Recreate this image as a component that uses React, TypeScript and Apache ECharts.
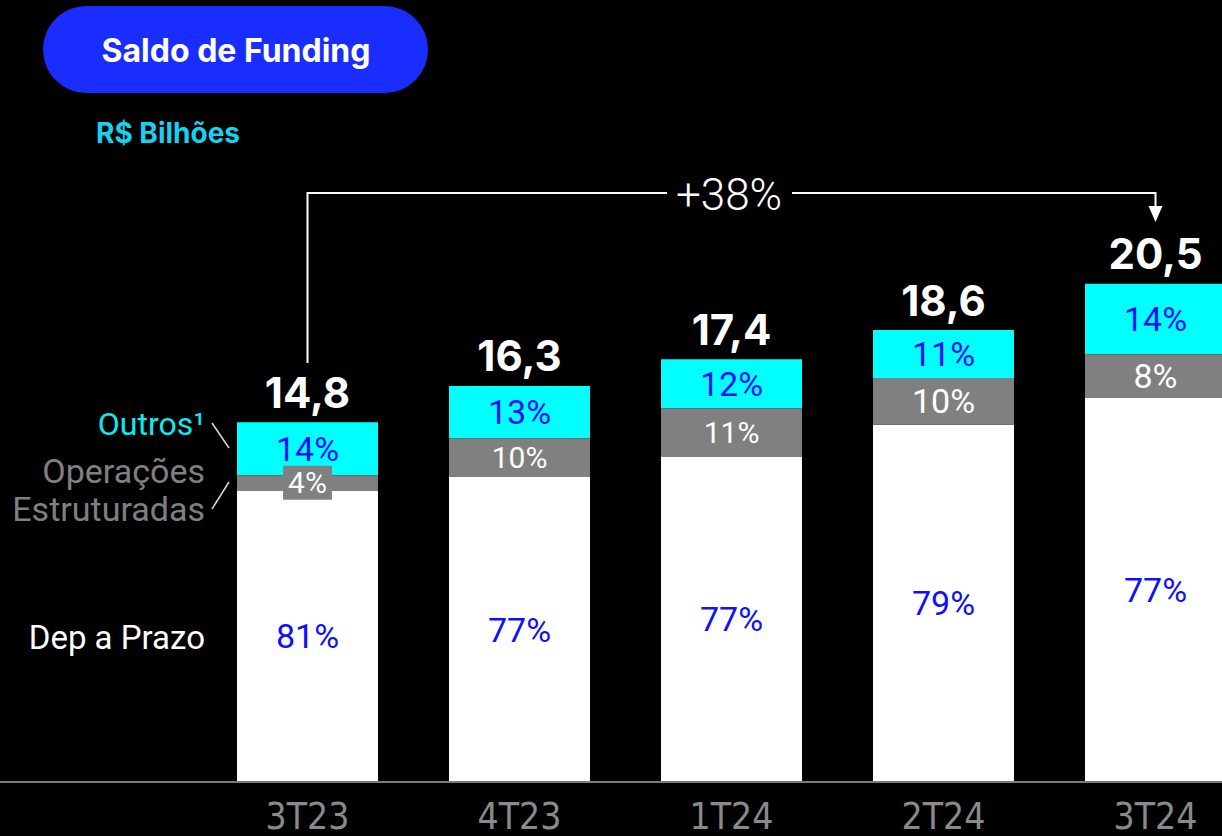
import React, { useEffect, useRef } from "react";
import * as echarts from "echarts";

const categories = ["3T23", "4T23", "1T24", "2T24", "3T24"];
const totals = [14.8, 16.3, 17.4, 18.6, 20.5];
const depPrazo = [12.0, 12.55, 13.4, 14.7, 15.8];
const opEstruturadas = [0.62, 1.6, 1.98, 1.93, 1.8];
const outros = [2.18, 2.15, 2.02, 1.97, 2.9];
const depPct = ["81%", "77%", "77%", "79%", "77%"];
const opPct = ["4%", "10%", "11%", "10%", "8%"];
const outrosPct = ["14%", "13%", "12%", "11%", "14%"];
const growthLabel = "+38%";
const totalLabels = ["14,8", "16,3", "17,4", "18,6", "20,5"];

const W = 1222;
const H = 836;
const CHART_W = 1280;
const GRID_LEFT = 201.5;
const CAT_W = 212;
const BASE_Y = 782;
const PX_PER_UNIT = 24.3;
const Y_MAX = 30;

const BLUE = "#0f0fff";
const CYAN = "#00ffff";
const GRAY = "#808080";
const FONT = "Roboto, 'Noto Sans', sans-serif";

export default function App() {
  const ref = useRef<HTMLDivElement>(null);
  useEffect(() => {
    if (!ref.current) return;
    const chart = echarts.init(ref.current, null, { renderer: "svg" });
    const gridHeight = Y_MAX * PX_PER_UNIT;
    const cx = (i: number) => GRID_LEFT + CAT_W * (i + 0.5);
    const arrowY = 193;
    const firstX = cx(0);
    const lastX = cx(categories.length - 1);
    const midX = 729;
    chart.setOption({
      animation: false,
      backgroundColor: "#000000",
      grid: {
        left: GRID_LEFT,
        top: BASE_Y - gridHeight,
        width: CAT_W * categories.length,
        height: gridHeight,
        containLabel: false,
      },
      xAxis: {
        type: "category",
        data: categories,
        axisLine: { show: true, lineStyle: { color: "#7a7a7a", width: 2 } },
        axisTick: { show: false },
        axisLabel: {
          color: "#8a8a8a",
          fontSize: 37,
          fontFamily: "'Liberation Sans Narrow', 'DejaVu Sans Condensed', Roboto, sans-serif",
          margin: 16,
        },
        z: 10,
      },
      yAxis: {
        type: "value",
        min: 0,
        max: Y_MAX,
        show: false,
        splitLine: { show: false },
      },
      series: [
        {
          name: "Dep a Prazo",
          type: "bar",
          stack: "funding",
          barWidth: 141,
          itemStyle: { color: "#ffffff" },
          label: {
            show: true,
            position: "inside",
            color: BLUE,
            fontSize: 34,
            fontFamily: FONT,
            formatter: (p: any) => depPct[p.dataIndex],
          },
          data: depPrazo,
        },
        {
          name: "Operações Estruturadas",
          type: "bar",
          stack: "funding",
          barWidth: 141,
          itemStyle: { color: GRAY },
          label: {
            show: true,
            position: "inside",
            color: "#ffffff",
            fontFamily: FONT,
            formatter: (p: any) => opPct[p.dataIndex],
          },
          data: opEstruturadas.map((v, i) => ({
            value: v,
            label:
              i === 0
                ? { fontSize: 30, backgroundColor: GRAY, padding: [2, 5] }
                : { fontSize: i < 3 ? 30 : 34 },
          })),
          z: 3,
        },
        {
          name: "Outros",
          type: "bar",
          stack: "funding",
          barWidth: 141,
          itemStyle: { color: CYAN },
          label: {
            show: true,
            position: "inside",
            color: BLUE,
            fontSize: 34,
            fontFamily: FONT,
            formatter: (p: any) => outrosPct[p.dataIndex],
          },
          data: outros,
        },
        {
          name: "Total",
          type: "bar",
          stack: "funding",
          barWidth: 141,
          itemStyle: { color: "rgba(0,0,0,0)" },
          label: {
            show: true,
            position: "top",
            distance: 9,
            color: "#ffffff",
            fontSize: 42,
            lineHeight: 42,
            fontWeight: "bold",
            fontFamily: "Inter, Roboto, sans-serif",
            formatter: (p: any) => totalLabels[p.dataIndex],
          },
          data: totals.map(() => 0),
          z: 5,
        },
      ],
      graphic: [
        {
          type: "rect",
          shape: { x: 43, y: 6, width: 385, height: 87, r: 43.5 },
          style: { fill: "#1a2dff" },
        },
        {
          type: "text",
          x: 236,
          y: 50,
          style: {
            text: "Saldo de Funding",
            fill: "#ffffff",
            font: "bold 32px Inter, Roboto, sans-serif",
            align: "center",
            verticalAlign: "middle",
          },
        },
        {
          type: "text",
          x: 96,
          y: 133,
          style: {
            text: "R$ Bilhões",
            fill: "#16d2f2",
            font: "bold 28px Inter, Roboto, sans-serif",
            align: "left",
            verticalAlign: "middle",
          },
        },
        {
          type: "text",
          x: 205,
          y: 424,
          style: {
            text: "Outros¹",
            fill: "#12e8f2",
            font: "32px Roboto, sans-serif",
            align: "right",
            verticalAlign: "middle",
          },
        },
        {
          type: "text",
          x: 205,
          y: 471,
          style: {
            text: "Operações",
            fill: GRAY,
            font: "34px Roboto, sans-serif",
            align: "right",
            verticalAlign: "middle",
          },
        },
        {
          type: "text",
          x: 205,
          y: 509,
          style: {
            text: "Estruturadas",
            fill: GRAY,
            font: "34px Roboto, sans-serif",
            align: "right",
            verticalAlign: "middle",
          },
        },
        {
          type: "text",
          x: 205,
          y: 637,
          style: {
            text: "Dep a Prazo",
            fill: "#ffffff",
            font: "33px Roboto, sans-serif",
            align: "right",
            verticalAlign: "middle",
          },
        },
        {
          type: "line",
          shape: { x1: 212, y1: 423, x2: 229, y2: 448 },
          style: { stroke: "#d8d8d8", lineWidth: 1.5 },
        },
        {
          type: "line",
          shape: { x1: 229, y1: 482, x2: 212, y2: 509 },
          style: { stroke: "#d8d8d8", lineWidth: 1.5 },
        },
        {
          type: "line",
          shape: { x1: 0, y1: BASE_Y, x2: GRID_LEFT, y2: BASE_Y },
          style: { stroke: "#7a7a7a", lineWidth: 2 },
        },
        {
          type: "polyline",
          shape: { points: [[firstX, 363], [firstX, arrowY], [667, arrowY]] },
          style: { stroke: "#ffffff", lineWidth: 2, fill: "none" },
        },
        {
          type: "polyline",
          shape: { points: [[792, arrowY], [lastX, arrowY], [lastX, 208]] },
          style: { stroke: "#ffffff", lineWidth: 2, fill: "none" },
        },
        {
          type: "polygon",
          shape: { points: [[lastX - 7, 206], [lastX + 7, 206], [lastX, 222]] },
          style: { fill: "#ffffff" },
        },
        {
          type: "text",
          x: midX,
          y: 195,
          style: {
            text: growthLabel,
            fill: "#ffffff",
            font: "300 44px Roboto, sans-serif",
            align: "center",
            verticalAlign: "middle",
          },
        },
      ],
    });
    return () => chart.dispose();
  }, []);
  return (
    <div
      style={{ position: "absolute", left: 0, top: 0, width: W, height: H, overflow: "hidden", background: "#000" }}
    >
      <div ref={ref} style={{ width: CHART_W, height: H }} />
    </div>
  );
}
